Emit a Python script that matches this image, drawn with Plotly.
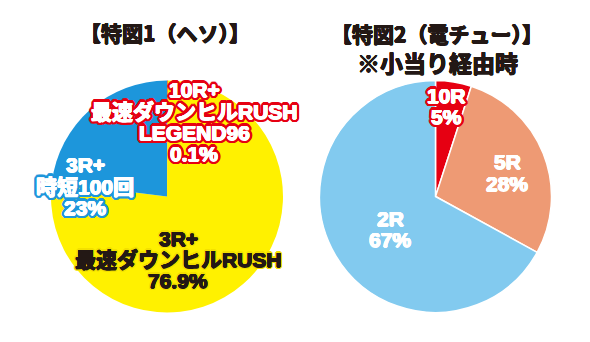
import math
import plotly.graph_objects as go

# ---- data ----
left_labels = ["10R+ 最速ダウンヒルRUSH LEGEND96", "3R+ 最速ダウンヒルRUSH", "3R+ 時短100回"]
left_values = [0.1, 76.9, 23.0]
left_text = [["10R+", "最速ダウンヒルRUSH", "LEGEND96", "0.1%"],
             ["3R+", "最速ダウンヒルRUSH", "76.9%"],
             ["3R+", "時短100回", "23%"]]
left_colors = ["#E60012", "#FFF100", "#1D96DB"]

right_labels = ["10R", "5R", "2R"]
right_values = [5, 28, 67]
right_text = [["10R", "5%"], ["5R", "28%"], ["2R", "67%"]]
right_colors = ["#E60012", "#EE9A74", "#82CAEF"]

title_left = ["【特図1（ヘソ）】"]
title_right = ["【特図2（電チュー）】", "※小当り経由時"]

# ---- layout helpers ----
W, H = 590, 342
FONT = "Liberation Sans, Noto Sans CJK JP, sans-serif"
TFONT = "Noto Sans CJK JP"


def px_domain(cx, cy, r):
    return dict(x=[(cx - r) / W, (cx + r) / W], y=[(H - (cy + r)) / H, (H - (cy - r)) / H])


def ring(color, w, n=16):
    parts = []
    for i in range(n):
        a = 2 * math.pi * i / n
        parts.append(f"{w*math.cos(a):.2f}px {w*math.sin(a):.2f}px 0 {color}")
    return parts


def outline(text_color, color, w):
    # thin ring in the text colour first (heavier glyphs), then the coloured outline
    return ", ".join(ring(text_color, 0.5, 8) + (ring(color, w) if color else []))


fig = go.Figure()
fig.add_trace(go.Pie(labels=left_labels, values=left_values, sort=False, direction="clockwise",
                     rotation=0, marker=dict(colors=left_colors, line=dict(width=0)),
                     textinfo="none", hoverinfo="label+percent", showlegend=False,
                     domain=px_domain(167, 196.5, 116)))
fig.add_trace(go.Pie(labels=right_labels, values=right_values, sort=False, direction="clockwise",
                     rotation=0, marker=dict(colors=right_colors, line=dict(width=1.5, color="white")),
                     textinfo="none", hoverinfo="label+percent", showlegend=False,
                     domain=px_domain(435.5, 196.5, 116)))

ann = []


def add_lines(lines, cx, cy0, step, size, color, shadow=None, family=FONT, sizes=None):
    for i, t in enumerate(lines):
        f = dict(family=family, size=(sizes[i] if sizes else size), color=color, weight="bold")
        if shadow:
            f["shadow"] = shadow
        ann.append(dict(text=t, x=cx / W, y=1 - (cy0 + i * step) / H, xref="paper", yref="paper",
                        xanchor="center", yanchor="middle", showarrow=False, borderpad=0, font=f))


DARK = "#231815"
# titles
add_lines(title_left, 165, 32, 29, 21, DARK, outline(DARK, None, 0), family=TFONT)
add_lines(title_right, 437, 33, 29, 21, DARK, outline(DARK, None, 0), family=TFONT, sizes=[21, 23])

# left pie labels
add_lines(left_text[0], 194, 90, 21.3, 21, "white", outline("white", "#E60012", 3))
add_lines(left_text[2], 85, 165, 21, 21, "white", outline("white", "#1D96DB", 3))
add_lines(left_text[1], 178, 238, 21, 21, DARK, outline(DARK, "#F3E000", 1.8))

# right pie labels
add_lines(right_text[0], 446, 95, 21.3, 21, "white", outline("white", "#E60012", 3))
add_lines(right_text[1], 507, 162, 21.3, 21, "white", outline("white", None, 0))
add_lines(right_text[2], 390, 218, 21.3, 21, "white", outline("white", None, 0))

fig.update_layout(width=W, height=H, margin=dict(l=0, r=0, t=0, b=0),
                  paper_bgcolor="white", plot_bgcolor="white", annotations=ann)
fig.write_html("out.html")
